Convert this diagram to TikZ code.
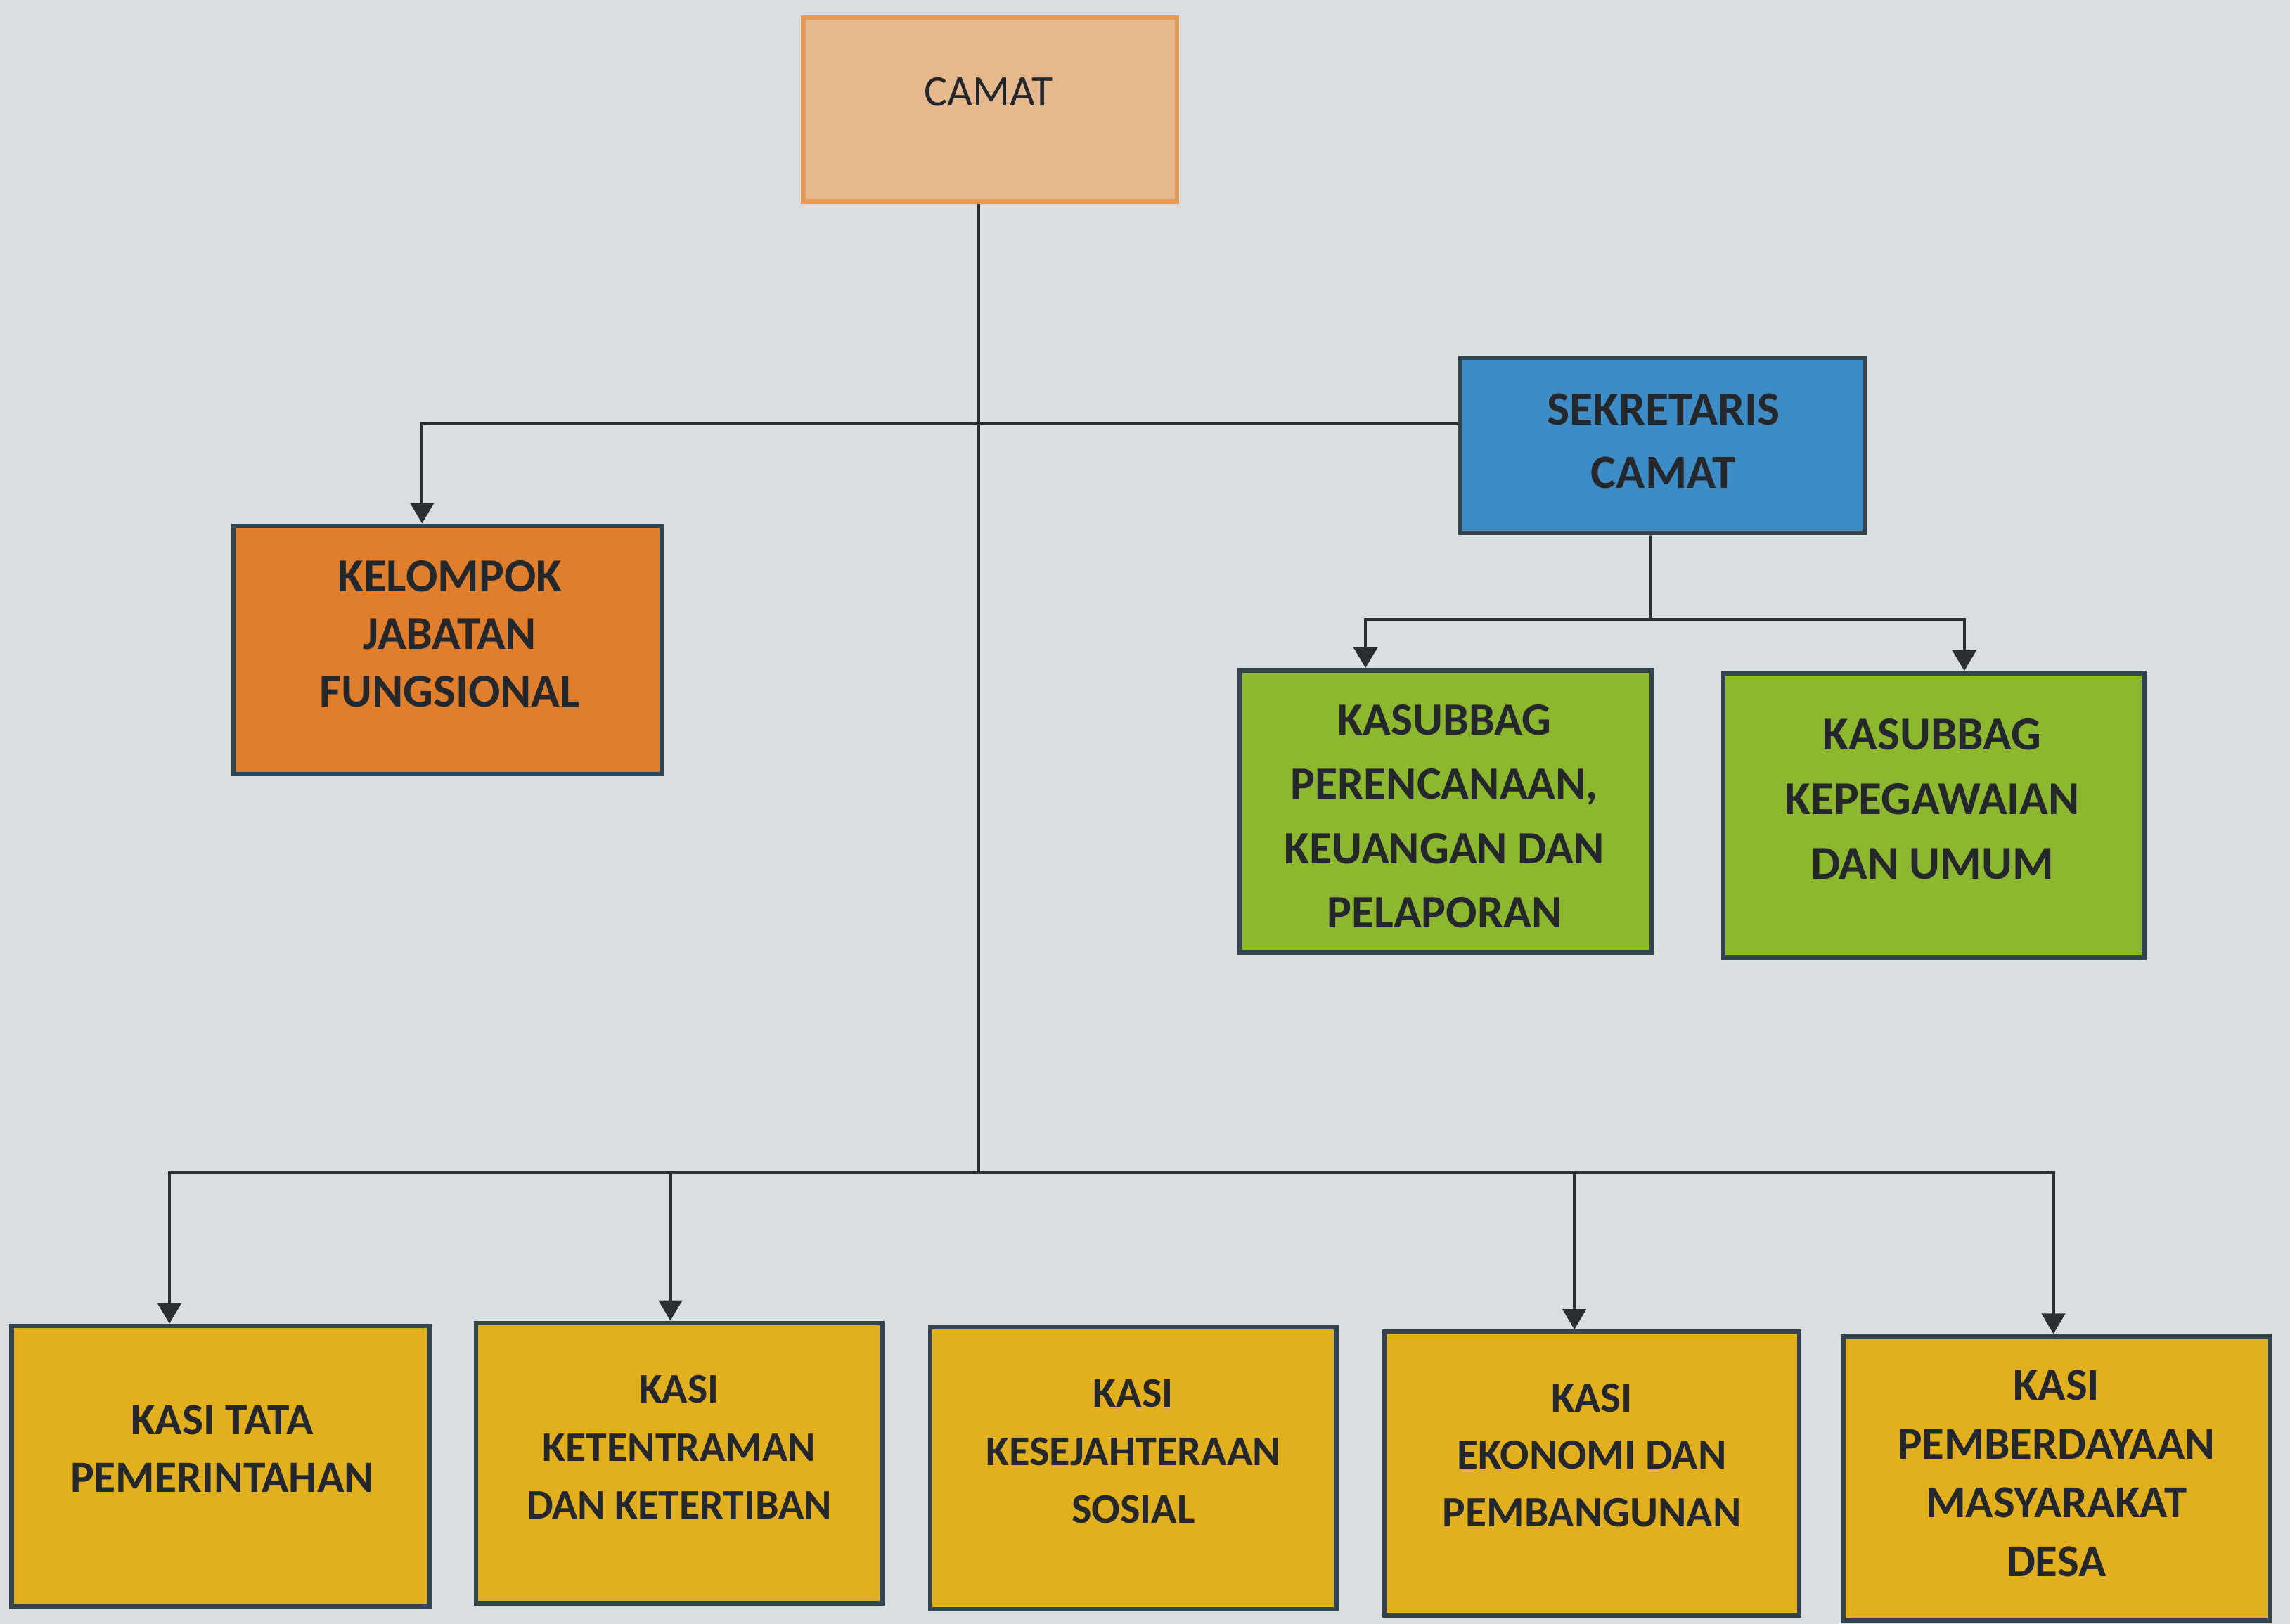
\documentclass[tikz,border=0pt]{standalone}
\usepackage{fontspec}
\setmainfont{Carlito}
\usetikzlibrary{arrows.meta}
\definecolor{bg}{HTML}{D9DFE1}
\definecolor{peach}{HTML}{E6B88E}
\definecolor{peachline}{HTML}{E49A5A}
\definecolor{blueF}{HTML}{3E8CC6}
\definecolor{orangeF}{HTML}{E07E2C}
\definecolor{greenF}{HTML}{8DB72E}
\definecolor{yellowF}{HTML}{E2AF1E}
\definecolor{edge}{HTML}{34444F}
\definecolor{ink}{HTML}{24272C}
\definecolor{wire}{HTML}{2B2F33}
\newcommand{\fs}[2]{\bfseries\fontsize{#1}{#2}\selectfont}
\tikzset{
  box/.style={draw=edge, line width=0.9pt, inner sep=0pt},
  txt/.style={align=center, text=ink, inner sep=0pt},
  wireline/.style={draw=wire, line width=0.6pt},
  arr/.style={wireline, -{Triangle[length=1.4mm, width=1.6mm]}}
}
\begin{document}
\begin{tikzpicture}[x=0.1mm, y=-0.1mm]
\fill[bg] (0,0) rectangle (1568,1112);
\useasboundingbox (0,0) rectangle (1568,1112);

% boxes
\node[box, draw=peachline, fill=peach, minimum width=25.6mm, minimum height=12.6mm] (camat) at (678,75) {};
\node[box, fill=blueF, minimum width=27.7mm, minimum height=12.0mm] (sek) at (1138.5,305) {};
\node[box, fill=orangeF, minimum width=29.3mm, minimum height=17.0mm] (kel) at (306.5,445) {};
\node[box, fill=greenF, minimum width=28.2mm, minimum height=19.3mm] (g1) at (990,555.5) {};
\node[box, fill=greenF, minimum width=28.8mm, minimum height=19.5mm] (g2) at (1324,558.5) {};
\node[box, fill=yellowF, minimum width=28.6mm, minimum height=19.2mm] (k1) at (151,1004) {};
\node[box, fill=yellowF, minimum width=27.8mm, minimum height=19.2mm] (k2) at (465,1002) {};
\node[box, fill=yellowF, minimum width=27.8mm, minimum height=19.3mm] (k3) at (776,1005.5) {};
\node[box, fill=yellowF, minimum width=28.4mm, minimum height=19.4mm] (k4) at (1090,1009) {};
\node[box, fill=yellowF, minimum width=29.2mm, minimum height=19.5mm] (k5) at (1408,1012.5) {};

% texts
\node[txt, font=\fontsize{8.5}{11}\selectfont] (camatT) at (677,63) {CAMAT};
\node[txt, font=\fs{9.3}{12.3}] (sekT) at (1139,302) {SEKRETARIS\\CAMAT};
\node[txt, font=\fs{9.2}{11.2}] (kelT) at (308,434) {KELOMPOK\\JABATAN\\FUNGSIONAL};
\node[txt, font=\fs{9}{12.5}] (g1T) at (989,559) {KASUBBAG\\PERENCANAAN,\\KEUANGAN DAN\\PELAPORAN};
\node[txt, font=\fs{9.2}{12.6}] (g2T) at (1323,547) {KASUBBAG\\KEPEGAWAIAN\\DAN UMUM};
\node[txt, font=\fs{8.7}{11.3}] (k1T) at (152,992) {KASI TATA\\PEMERINTAHAN};
\node[txt, font=\fs{8.2}{11.3}] (k2T) at (465,991) {KASI\\KETENTRAMAN\\DAN KETERTIBAN};
\node[txt, font=\fs{8.25}{11.3}] (k3T) at (776,994) {KASI\\KESEJAHTERAAN\\SOSIAL};
\node[txt, font=\fs{8.4}{11.2}] (k4T) at (1090,996.5) {KASI\\EKONOMI DAN\\PEMBANGUNAN};
\node[txt, font=\fs{8.9}{11.5}] (k5T) at (1408,1009) {KASI\\PEMBERDAYAAN\\MASYARAKAT\\DESA};

% junctions
\coordinate (jB) at (670,803);
\coordinate (jS) at (1130,424);

% connectors
\draw[wireline] ([xshift=-0.8mm]camat.south) -- (jB);
\draw[arr] ([yshift=1.5mm]sek.west) -| ([xshift=-1.75mm]kel.north);
\draw[wireline] ([xshift=-0.85mm]sek.south) -- (jS);
\draw[arr] (jS) -| ([xshift=-5.5mm]g1.north);
\draw[arr] (jS) -| ([xshift=2.1mm]g2.north);
\draw[arr] (jB) -| ([xshift=-3.5mm]k1.north);
\draw[arr] (jB) -| ([xshift=-0.6mm]k2.north);
\draw[arr] (jB) -| ([xshift=-1.2mm]k4.north);
\draw[arr] (jB) -| ([xshift=-0.2mm]k5.north);
\end{tikzpicture}
\end{document}
